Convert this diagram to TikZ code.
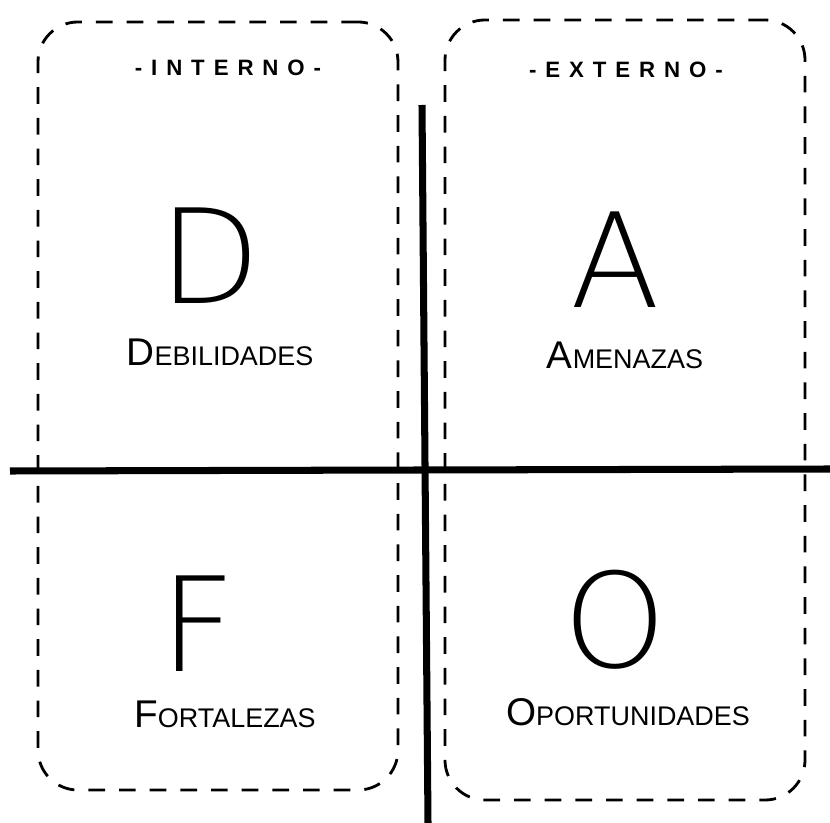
\documentclass[tikz,border=0pt]{standalone}
\usepackage{fontspec}
\setmainfont{Liberation Sans}
\newfontfamily\spacedfont[LetterSpace=40]{Liberation Sans}
\newfontfamily\thinfont{DejaVuSans-ExtraLight.ttf}
\usetikzlibrary{positioning}

\begin{document}
\begin{tikzpicture}[x=0.03cm, y=-0.03cm,
    side/.style={rectangle, draw, dashed, dash pattern=on 0.5cm off 0.42cm, line width=2.4pt, rounded corners=1.2cm, minimum width=10.8cm, inner sep=0pt},
    header/.style={font=\spacedfont\bfseries\fontsize{19}{19}\selectfont},
    letter/.style={font=\thinfont\fontsize{112}{112}\selectfont, inner sep=0pt},
    word/.style={font=\fontsize{23}{23}\selectfont, inner sep=0pt},
    axis/.style={line width=6pt}]
\useasboundingbox (0,0) rectangle (830,823);
% dashed halves
\node (interno) [side, minimum height=23.04cm] at (218,406) {};
\node (externo) [side, minimum height=23.4cm] at (625,410) {};
\node (inttitle) [header] at (228,68) {-INTERNO-};
\node (exttitle) [header] at (626,70) {-EXTERNO-};
% cross
\coordinate (top) at (422,105);
\coordinate (bottom) at (428,823);
\coordinate (left) at (10,471);
\coordinate (right) at (830,469);
\draw [axis] (top) -- (bottom);
\draw [axis] (left) -- (right);
% quadrants
\node (d) [letter] at (210,256) {D};
\node (dword) [word] at (220,352) {{\fontsize{33}{33}\selectfont D}EBILIDADES};
\node (a) [letter] at (615,260) {A};
\node (aword) [word] at (625,355) {{\fontsize{33}{33}\selectfont A}MENAZAS};
\node (f) [letter] at (198,624) {F};
\node (fword) [word] at (225,714) {{\fontsize{33}{33}\selectfont F}ORTALEZAS};
\node (o) [letter] at (615,620) {O};
\node (oword) [word] at (628,712) {{\fontsize{33}{33}\selectfont O}PORTUNIDADES};
\end{tikzpicture}
\end{document}
